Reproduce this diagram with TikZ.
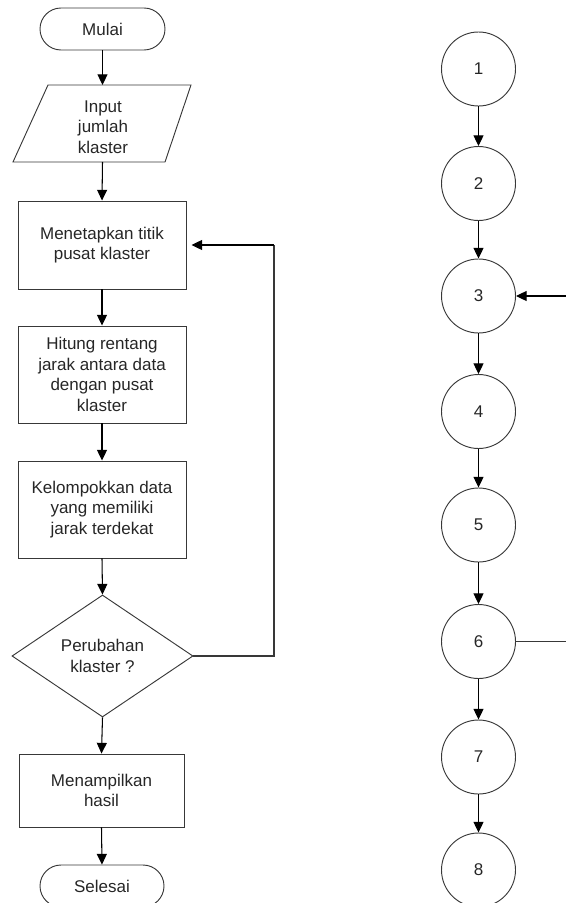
\documentclass[tikz,border=0pt]{standalone}
\usepackage{fontspec}
\setmainfont{Liberation Sans}
\usetikzlibrary{shapes.geometric,arrows.meta}
\definecolor{lineC}{rgb}{0.22,0.22,0.22}
\tikzset{
  basefont/.style={font=\fontsize{14.5}{17.5}\selectfont, text=black!85},
  shapebase/.style={draw=lineC, line width=0.8pt, inner sep=0pt, align=center, basefont},
  terminal/.style={shapebase, rectangle, minimum width=3.75cm, minimum height=1.26cm, rounded corners=0.63cm},
  procbox/.style={shapebase, rectangle, minimum width=5.04cm},
  decision/.style={shapebase, diamond, minimum width=5.43cm, minimum height=3.66cm},
  stepcircle/.style={shapebase, circle, minimum size=2.22cm},
  flowarrow/.style={draw=black, line width=0.9pt, -{Triangle[width=0.3cm,length=0.32cm]}},
  flowline/.style={draw=lineC, line width=0.9pt}
}
\begin{document}
\begin{tikzpicture}[x=0.03cm,y=-0.03cm]
\useasboundingbox (0,0) rectangle (566,903);
% ---------------- left flowchart ----------------
\node[terminal] (mulai) at (102.5,29) {Mulai};
\coordinate (inTop) at (102.5,85);
\coordinate (inBot) at (102.5,162);
\draw[draw=lineC, line width=0.8pt] (48,85) -- (191,85) -- (165,162) -- (13,162) -- cycle;
\node[basefont, align=center] (input) at (103,127) {Input\\jumlah\\klaster};
\node[procbox, minimum height=2.64cm] (r1) at (102,245) {Menetapkan titik\\pusat klaster};
\node[procbox, minimum height=2.91cm] (r2) at (102,374.5) {Hitung rentang\\jarak antara data\\dengan pusat\\klaster};
\node[procbox, minimum height=2.91cm] (r3) at (102,509.5) {Kelompokkan data\\yang memiliki\\jarak terdekat};
\node[decision] (dec) at (102.5,656) {Perubahan\\klaster ?};
\node[procbox, minimum width=4.95cm, minimum height=2.19cm] (r4) at (101.5,790.5) {Menampilkan\\hasil};
\node[terminal, minimum width=3.72cm] (selesai) at (102,886) {Selesai};
\coordinate (loopA) at (274,656);
\coordinate (loopB) at (274,245);

\draw[flowarrow] (mulai.south) -- (inTop);
\draw[flowarrow] (inBot) -- (r1.north);
\draw[flowarrow] (r1.south) -- (r2.north);
\draw[flowarrow] (r2.south) -- (r3.north);
\draw[flowarrow] (r3.south) -- (dec.north);
\draw[flowarrow] (dec.south) -- (r4.north);
\draw[flowarrow] (r4.south) -- (selesai.north);
\draw[flowline] (dec.east) -- (loopA) -- (loopB);
\draw[flowarrow, shorten >=0.15cm] (loopB) -- (r1.east);

% ---------------- right column ----------------
\node[stepcircle] (c1) at (478.5,69) {1};
\node[stepcircle] (c2) at (478.5,183.5) {2};
\node[stepcircle] (c3) at (478.5,296) {3};
\node[stepcircle] (c4) at (478.5,411.5) {4};
\node[stepcircle] (c5) at (478.5,525) {5};
\node[stepcircle] (c6) at (478.5,641.5) {6};
\node[stepcircle] (c7) at (478.5,757) {7};
\node[stepcircle] (c8) at (478.5,870) {8};
\coordinate (in3) at (566,296);
\coordinate (out6) at (566,641.5);

\draw[flowarrow] (c1.south) -- (c2.north);
\draw[flowarrow] (c2.south) -- (c3.north);
\draw[flowarrow] (c3.south) -- (c4.north);
\draw[flowarrow] (c4.south) -- (c5.north);
\draw[flowarrow] (c5.south) -- (c6.north);
\draw[flowarrow] (c6.south) -- (c7.north);
\draw[flowarrow] (c7.south) -- (c8.north);
\draw[flowarrow] (in3) -- (c3.east);
\draw[flowline] (c6.east) -- (out6);
\end{tikzpicture}
\end{document}
